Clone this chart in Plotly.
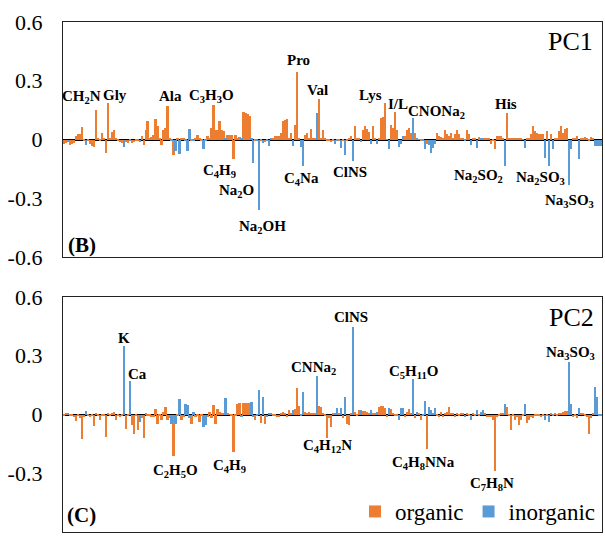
import plotly.graph_objects as go
from plotly.subplots import make_subplots

# ---------------- data ----------------
pc1 = [
    -0.025, -0.02, -0.015, -0.03, -0.025, -0.02, 0.02, 0.03, 0.03, 0.065,
    -0.005, -0.03, -0.01, -0.025, -0.035, -0.04, 0.15, 0.005, -0.01, 0.035,
    0.01, -0.07, 0.185, 0.01, 0.04, 0.05, 0.01, -0.01, -0.015, -0.02,
    -0.04, -0.015, -0.02, -0.01, -0.02, -0.015, -0.01, -0.01, -0.015, 0.02,
    -0.03, 0.05, 0.095, 0.01, 0.015, 0.025, 0.105, 0.07, 0.01, -0.03,
    0.05, 0.057, 0.17, 0.01, -0.01, -0.08, -0.06, 0.005, -0.075, 0.01,
    0.005, -0.01, -0.06, 0.056, -0.01, -0.01, 0.005, 0.025, 0.005, -0.005,
    -0.05, -0.005, 0.02, 0.01, 0.06, 0.175, 0.05, 0.05, 0.095, 0.05,
    0.045, 0.005, 0.025, 0.025, 0.025, -0.10, 0.025, 0.01, 0.015, 0.005,
    0.14, 0.135, 0.128, 0.122, 0.005, -0.12, -0.005, -0.01, -0.36, -0.01,
    -0.02, -0.015, -0.01, -0.035, 0.01, 0.01, 0.017, 0.02, 0.02, 0.035,
    0.095, 0.10, 0.105, 0.005, 0.035, -0.035, 0.072, 0.344, 0.005, -0.04,
    -0.137, 0.025, 0.035, 0.005, 0.055, 0.01, 0.005, 0.137, 0.205, 0.005,
    0.05, 0.005, -0.005, -0.01, -0.015, -0.01, -0.025, -0.005, -0.01, -0.043,
    -0.005, -0.077, -0.005, 0.005, 0.017, -0.11, 0.07, 0.005, 0.005, -0.015,
    0.05, 0.068, 0.055, 0.038, -0.025, 0.07, 0.005, -0.025, 0.005, 0.11,
    0.116, 0.185, 0.002, -0.048, 0.072, 0.06, 0.14, 0.05, -0.038, -0.025,
    0.017, 0.017, 0.05, 0.06, 0.034, 0.11, 0.034, 0.005, 0.002, -0.005,
    -0.01, -0.05, -0.025, -0.03, -0.068, -0.043, -0.025, 0.034, 0.02, 0.014,
    0.005, 0.048, 0.03, 0.02, 0.034, 0.01, 0.03, 0.048, 0.026, 0.005,
    0.005, -0.01, 0.05, 0.026, -0.03, 0.01, 0.005, -0.043, 0.014, 0.01,
    0.005, 0.005, 0.003, 0.005, -0.025, -0.01, -0.05, 0.02, 0.02, 0.017,
    0.005, -0.137, 0.133, 0.005, 0.01, 0.005, 0.01, 0.01, 0.003, 0.003,
    0.002, -0.043, 0.003, 0.005, 0.026, 0.068, 0.043, 0.034, 0.03, 0.03,
    0.026, -0.094, 0.043, -0.133, 0.03, -0.05, 0.005, 0.005, 0.043, 0.068,
    0.034, 0.055, 0.06, -0.23, -0.05, 0.003, 0.005, 0.017, -0.1, 0.008,
    0.003, 0.014, 0.003, -0.01, 0.014, 0.003, -0.034, -0.034, -0.034, -0.034,
]

pc2 = [
    -0.005, 0.003, 0.005, -0.005, -0.01, -0.015, -0.032, -0.01, -0.02, -0.123,
    -0.015, 0.019, -0.01, -0.015, -0.005, -0.058, 0.01, -0.005, -0.029, -0.005,
    -0.01, -0.115, 0.003, -0.005, 0.003, 0.012, -0.029, -0.01, -0.015, -0.008,
    0.35, -0.072, -0.01, 0.171, -0.055, -0.1, -0.01, -0.08, -0.038, -0.02,
    -0.118, 0.005, -0.005, -0.01, -0.015, -0.012, 0.026, -0.05, -0.005, -0.026,
    0.014, 0.036, -0.029, -0.02, -0.046, -0.21, -0.05, -0.005, 0.077, -0.029,
    -0.015, 0.053, 0.048, -0.02, -0.046, 0.014, -0.012, -0.005, -0.038, -0.01,
    -0.063, -0.055, -0.015, 0.014, -0.02, 0.048, -0.05, 0.026, 0.014, 0.005,
    0.003, 0.082, 0.003, 0.002, -0.005, -0.19, -0.01, 0.053, 0.057, -0.015,
    0.057, 0.06, 0.057, 0.06, 0.065, -0.015, -0.026, -0.005, 0.125, -0.043,
    0.09, -0.05, -0.015, 0.003, 0.005, -0.008, -0.005, -0.015, -0.012, 0.003,
    0.012, 0.005, -0.015, 0.022, 0.003, 0.022, 0.03, 0.133, 0.043, -0.009,
    0.116, 0.014, 0.01, 0.014, 0.008, 0.008, 0.005, 0.198, 0.043, 0.036,
    0.005, -0.01, -0.12, -0.02, -0.063, 0.005, 0.003, 0.031, 0.005, 0.031,
    -0.02, 0.09, -0.046, -0.055, 0.005, 0.446, 0.014, -0.009, 0.022, 0.022,
    0.019, 0.017, 0.014, 0.005, 0.022, 0.005, 0.005, 0.014, 0.036, 0.043,
    0.043, 0.031, -0.015, 0.031, 0.026, 0.005, -0.005, -0.005, -0.026, 0.031,
    0.031, -0.015, 0.014, 0.026, 0.005, 0.18, -0.02, 0.014, 0.003, -0.029,
    -0.009, 0.07, -0.175, 0.04, 0.022, 0.005, 0.031, -0.005, -0.015, 0.014,
    -0.015, 0.005, 0.014, 0.04, 0.005, 0.003, -0.015, 0.005, -0.009, 0.003,
    0.003, -0.015, 0.003, -0.009, -0.026, 0.003, -0.005, 0.022, -0.009, 0.014,
    0.022, 0.003, -0.015, -0.015, -0.015, -0.026, -0.287, -0.015, -0.005, 0.003,
    0.003, 0.053, 0.04, -0.009, -0.08, -0.01, -0.029, -0.015, -0.055, -0.029,
    -0.01, 0.053, -0.043, -0.026, -0.015, -0.02, -0.003, -0.009, -0.005, -0.015,
    -0.005, -0.026, -0.005, -0.038, 0.003, -0.009, 0.003, -0.005, 0.003, 0.003,
    0.014, 0.019, 0.019, 0.267, 0.053, -0.015, -0.005, -0.02, 0.031, 0.005,
    0.003, -0.005, -0.015, -0.097, -0.02, 0.003, 0.138, 0.087, -0.009, -0.01,
]

# 1 = inorganic, 0 = organic
inorganic = [
    0, 0, 1, 0, 0, 0, 0, 0, 0, 0,
    0, 1, 0, 0, 0, 0, 0, 0, 0, 0,
    0, 0, 0, 0, 0, 0, 0, 0, 0, 0,
    1, 0, 0, 1, 0, 0, 0, 0, 1, 0,
    0, 0, 0, 0, 0, 0, 0, 0, 0, 0,
    0, 0, 0, 0, 1, 0, 1, 0, 1, 0,
    0, 1, 1, 1, 0, 1, 0, 0, 0, 0,
    1, 1, 0, 0, 0, 0, 0, 0, 0, 0,
    0, 1, 0, 0, 0, 0, 0, 0, 0, 1,
    0, 0, 0, 0, 1, 1, 0, 1, 1, 0,
    1, 0, 1, 1, 1, 0, 0, 0, 0, 0,
    0, 0, 0, 0, 0, 1, 0, 0, 0, 1,
    1, 0, 0, 0, 0, 0, 0, 1, 0, 0,
    0, 0, 0, 0, 0, 0, 1, 1, 0, 1,
    0, 1, 0, 0, 0, 1, 0, 0, 0, 1,
    0, 0, 0, 0, 1, 0, 0, 1, 0, 0,
    0, 0, 0, 1, 0, 0, 0, 0, 1, 1,
    1, 0, 0, 0, 0, 1, 0, 1, 0, 0,
    1, 1, 0, 1, 1, 1, 1, 0, 0, 0,
    0, 0, 0, 0, 0, 0, 0, 0, 0, 0,
    0, 1, 0, 0, 1, 0, 0, 1, 0, 1,
    1, 0, 0, 0, 0, 0, 0, 0, 0, 0,
    0, 1, 0, 0, 0, 0, 0, 0, 0, 0,
    0, 1, 0, 0, 0, 0, 0, 0, 0, 0,
    0, 1, 0, 1, 0, 1, 0, 0, 0, 0,
    0, 0, 0, 1, 1, 0, 0, 0, 1, 0,
    0, 0, 0, 0, 0, 0, 1, 1, 1, 1,
]

ytick_vals = [-0.6, -0.3, 0, 0.3, 0.6]
ytick_text = ["-0.6", "-0.3", "0", "0.3", "0.6"]

# peak labels: text, x (px), y (px)
pc1_labels = [
    ("CH<sub>2</sub>N", 82, 97), ("Gly", 115, 95), ("Ala", 170, 96),
    ("C<sub>3</sub>H<sub>3</sub>O", 211, 96), ("Pro", 298, 60), ("Val", 317, 90),
    ("Lys", 370, 95), ("I/L", 398, 104), ("CNONa<sub>2</sub>", 437, 112),
    ("His", 506, 104), ("C<sub>4</sub>H<sub>9</sub>", 219, 171),
    ("Na<sub>2</sub>O", 236, 191), ("Na<sub>2</sub>OH", 262, 227),
    ("C<sub>4</sub>Na", 301, 179), ("ClNS", 350, 172),
    ("Na<sub>2</sub>SO<sub>2</sub>", 478, 176), ("Na<sub>2</sub>SO<sub>3</sub>", 540, 178),
    ("Na<sub>3</sub>SO<sub>3</sub>", 569, 201),
]
pc2_labels = [
    ("K", 124, 338), ("Ca", 137, 374), ("C<sub>2</sub>H<sub>5</sub>O", 175, 471),
    ("C<sub>4</sub>H<sub>9</sub>", 229, 466), ("CNNa<sub>2</sub>", 313, 368),
    ("ClNS", 351, 317), ("C<sub>5</sub>H<sub>11</sub>O", 413, 372),
    ("Na<sub>3</sub>SO<sub>3</sub>", 570, 353), ("C<sub>4</sub>H<sub>12</sub>N", 327, 446),
    ("C<sub>4</sub>H<sub>8</sub>NNa", 423, 463), ("C<sub>7</sub>H<sub>8</sub>N", 492, 484),
]

ORANGE = "#ED7D31"
BLUE = "#5B9BD5"
W, H = 605, 536
SERIF = "Times New Roman"

fig = make_subplots(rows=2, cols=1, vertical_spacing=0.07)

idx = list(range(len(pc1)))
for row, vals in ((1, pc1), (2, pc2)):
    for flag, name, color in ((0, "organic", ORANGE), (1, "inorganic", BLUE)):
        xs = [i for i in idx if inorganic[i] == flag]
        ys = [vals[i] for i in xs]
        fig.add_trace(
            go.Bar(x=xs, y=ys, name=name, marker=dict(color=color, line=dict(width=0)),
                   width=0.85, showlegend=(row == 2)),
            row=row, col=1)

fig.update_xaxes(range=[-0.5, len(pc1) - 0.5], showticklabels=False, ticks="",
                 showgrid=False, zeroline=False, showline=True, linecolor="#222",
                 linewidth=1.3, mirror=True, domain=[63 / W, 602 / W], automargin=False)
fig.update_yaxes(range=[-0.6, 0.6], tickvals=ytick_vals, ticktext=ytick_text,
                 ticks="", showgrid=False, zeroline=True, zerolinecolor="black",
                 zerolinewidth=2, showline=True, linecolor="#222", linewidth=1.3,
                 mirror=True, ticklabelstandoff=15, automargin=False,
                 tickfont=dict(family=SERIF, size=22, color="black"))
fig.update_layout(yaxis=dict(domain=[1 - 257 / H, 1 - 22 / H]),
                  yaxis2=dict(domain=[1 - 532 / H, 1 - 297 / H]))

annotations = []
for labels in (pc1_labels, pc2_labels):
    for text, px, py in labels:
        annotations.append(dict(text=text, x=px / W, y=1 - py / H, xref="paper", yref="paper",
                                showarrow=False, xanchor="center", yanchor="middle",
                                font=dict(family=SERIF, size=15, color="black", weight="bold")))
for text, px, py in (("PC1", 570, 41), ("PC2", 571, 317)):
    annotations.append(dict(text=text, x=px / W, y=1 - py / H, xref="paper", yref="paper",
                            showarrow=False, xanchor="center", yanchor="middle",
                            font=dict(family=SERIF, size=26, color="black")))
for text, px, py in (("(B)", 82, 245), ("(C)", 82, 515)):
    annotations.append(dict(text=text, x=px / W, y=1 - py / H, xref="paper", yref="paper",
                            showarrow=False, xanchor="center", yanchor="middle",
                            font=dict(family=SERIF, size=21, color="black", weight="bold")))

fig.update_layout(
    width=W, height=H, margin=dict(l=0, r=0, t=0, b=0, autoexpand=False),
    paper_bgcolor="white", plot_bgcolor="white",
    font=dict(family=SERIF),
    barmode="overlay", bargap=0,
    annotations=annotations,
    legend=dict(orientation="h", x=601 / W, xanchor="right", y=1 - 533 / H, yanchor="bottom",
                bgcolor="rgba(0,0,0,0)", font=dict(family=SERIF, size=23, color="black"),
                itemwidth=30, tracegroupgap=0),
)

fig.write_html("out.html")
